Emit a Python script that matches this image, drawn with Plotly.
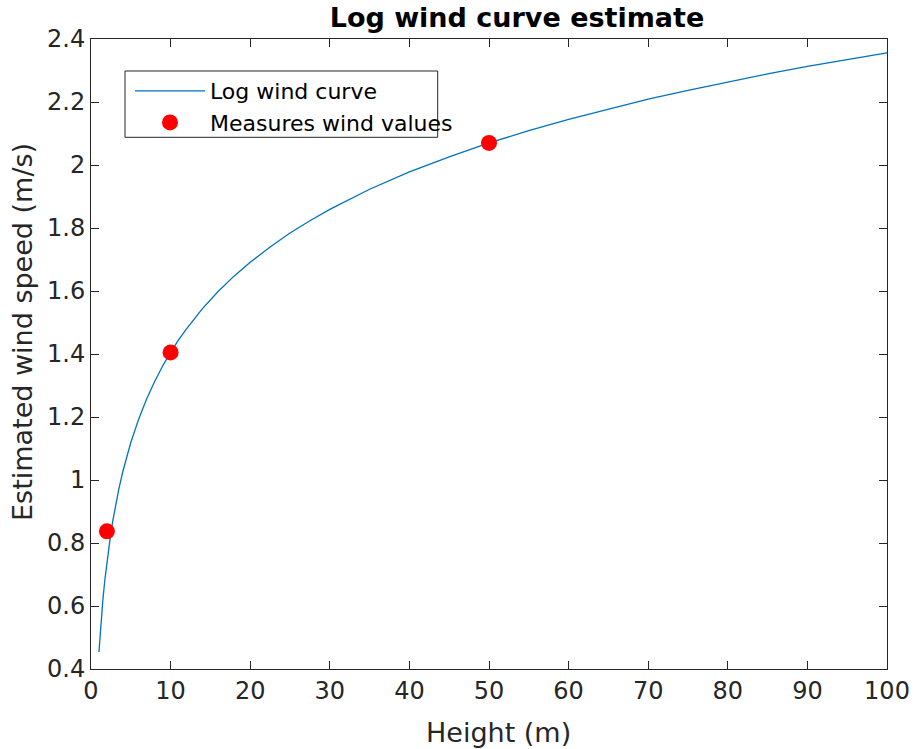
import plotly.graph_objects as go

# Log wind curve
curve_height = [1, 1.1, 1.2, 1.3, 1.4, 1.5, 1.75, 2, 2.25, 2.5, 2.75, 3, 3.5, 4, 4.5,
                5, 6, 7, 8, 9, 10, 11, 12, 14, 16, 18, 20, 22.5, 25, 27.5, 30, 35,
                40, 45, 50, 55, 60, 65, 70, 75, 80, 85, 90, 95, 100]
curve_speed = [0.454, 0.494, 0.529, 0.563, 0.593, 0.622, 0.685, 0.740, 0.789, 0.833,
               0.872, 0.908, 0.972, 1.027, 1.075, 1.119, 1.194, 1.258, 1.313, 1.362,
               1.405, 1.445, 1.480, 1.544, 1.599, 1.648, 1.691, 1.740, 1.784, 1.823,
               1.859, 1.923, 1.978, 2.026, 2.070, 2.109, 2.145, 2.178, 2.209, 2.237,
               2.264, 2.289, 2.313, 2.335, 2.356]

# Measured wind values
meas_height = [2, 10, 50]
meas_speed = [0.837, 1.405, 2.07]

x_ticks = [0, 10, 20, 30, 40, 50, 60, 70, 80, 90, 100]
y_ticks = [0.4, 0.6, 0.8, 1.0, 1.2, 1.4, 1.6, 1.8, 2.0, 2.2, 2.4]
y_tick_text = ["0.4", "0.6", "0.8", "1", "1.2", "1.4", "1.6", "1.8", "2", "2.2", "2.4"]

axis_col = "#262626"
font_family = "DejaVu Sans"

# plot-area geometry in pixels
PL, PR, PT, PB = 91, 887, 39, 669
PW, PH = PR - PL, PB - PT

fig = go.Figure()
fig.add_trace(go.Scatter(
    x=curve_height, y=curve_speed, mode="lines", name="Log wind curve",
    line=dict(color="#0072BD", width=1.3),
))
fig.add_trace(go.Scatter(
    x=meas_height, y=meas_speed, mode="markers", name="Measures wind values",
    marker=dict(color="#FF0000", size=16, line=dict(color="#FF0000", width=0)),
))

# legend box (MATLAB-style, fixed size)
fig.add_shape(type="rect", xref="paper", yref="paper",
              x0=(125 - PL) / PW, x1=(437.7 - PL) / PW,
              y0=(PB - 137.3) / PH, y1=(PB - 71) / PH,
              line=dict(color=axis_col, width=1), fillcolor="white", layer="below")

# axis titles
fig.add_annotation(text="Height (m)", xref="paper", yref="paper",
                   x=(498 - PL) / PW, y=(PB - 732) / PH, xanchor="center", yanchor="middle",
                   showarrow=False, font=dict(size=27, color=axis_col, family=font_family))
fig.add_annotation(text="Estimated wind speed (m/s)", xref="paper", yref="paper",
                   x=(22 - PL) / PW, y=(PB - 332) / PH, xanchor="center", yanchor="middle",
                   textangle=-90, showarrow=False,
                   font=dict(size=27, color=axis_col, family=font_family))

fig.update_layout(
    width=915, height=749,
    margin=dict(l=PL, r=915 - PR, t=PT, b=749 - PB, autoexpand=False),
    paper_bgcolor="white", plot_bgcolor="white",
    font=dict(family=font_family, color=axis_col),
    title=dict(text="<b>Log wind curve estimate</b>", x=517 / 915, xanchor="center",
               y=1 - 18 / 749, yanchor="middle", yref="container",
               font=dict(size=27, color="black", family=font_family)),
    showlegend=True,
    legend=dict(x=(130 - PL) / PW, y=(PB - 70) / PH, xanchor="left", yanchor="top",
                bgcolor="rgba(0,0,0,0)", borderwidth=0,
                font=dict(size=22, color="black", family=font_family),
                itemwidth=70),
    xaxis=dict(range=[0, 100], tickvals=x_ticks, ticks="inside", ticklen=8,
               showline=True, linecolor=axis_col, linewidth=1, mirror="allticks",
               tickcolor=axis_col, showgrid=False, zeroline=False, automargin=False,
               tickfont=dict(size=24, color=axis_col)),
    yaxis=dict(range=[0.4, 2.4], tickvals=y_ticks, ticktext=y_tick_text, ticks="inside", ticklen=8,
               showline=True, linecolor=axis_col, linewidth=1, mirror="allticks",
               tickcolor=axis_col, showgrid=False, zeroline=False, automargin=False,
               tickfont=dict(size=24, color=axis_col)),
)

fig.write_html("out.html")
